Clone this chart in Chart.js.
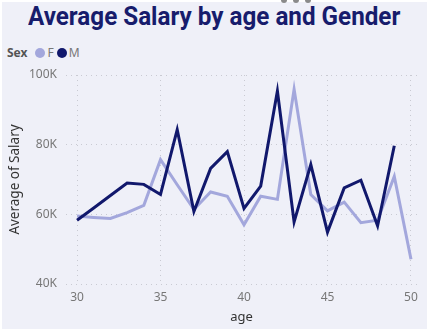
<!DOCTYPE html>
<html lang="en">
<head>
    <meta charset="UTF-8">
    <title>Average Salary by age and Gender</title>
    <style>
        body {
            margin: 0;
            width: 432px;
            height: 332px;
            background-color: #ffffff;
            position: relative;
            overflow: hidden;
            font-family: 'Noto Sans', sans-serif;
        }
        .panel {
            position: absolute;
            left: 2px;
            top: 2px;
            width: 425px;
            height: 327px;
            background-color: #eff0f8;
        }
        .dots {
            position: absolute;
            left: 281px;
            top: -3px;
            display: flex;
            gap: 6px;
        }
        .dots span {
            width: 6px;
            height: 6px;
            border-radius: 50%;
            background-color: #8a8a8a;
        }
        h1 {
            position: absolute;
            left: 0;
            width: 429px;
            top: 2px;
            margin: 0;
            text-align: center;
            white-space: nowrap;
            font-family: Roboto, sans-serif;
            font-weight: bold;
            font-size: 25px;
            line-height: 30px;
            color: #171c6c;
        }
        h1 span {
            display: inline-block;
        }
        .legend {
            position: absolute;
            left: 7px;
            top: 44px;
            font-size: 12px;
            color: #777777;
            white-space: nowrap;
        }
        .legend b {
            color: #555555;
            margin-right: 8px;
        }
        .legend i {
            display: inline-block;
            width: 10px;
            height: 10px;
            border-radius: 50%;
            vertical-align: -1px;
            margin-right: 2px;
        }
        canvas {
            position: absolute;
            left: 0;
            top: 0;
        }
    </style>
</head>
<body>
    <div class="panel"></div>
    <div class="dots"><span></span><span></span><span></span></div>
    <h1><span id="title">Average Salary by age and Gender</span></h1>
    <div class="legend"><b>Sex</b><i style="background:#a3a7dc"></i>F <i style="background:#11186c"></i>M</div>
    <canvas id="chart" width="432" height="332"></canvas>

    <script src="https://cdn.jsdelivr.net/npm/chart.js@4.4.1/dist/chart.umd.min.js"></script>
    <script>
        const ages = [30, 31, 32, 33, 34, 35, 36, 37, 38, 39, 40, 41, 42, 43, 44, 45, 46, 47, 48, 49, 50];
        const salaryF = [59500, 59100, 58800, 60500, 62600, 75700, 68500, 61400, 66400, 65200, 57000, 65200, 64300, 95900, 65700, 61000, 63500, 57600, 58300, 70900, 47100];
        const salaryM = [58300, 61800, 65400, 69000, 68600, 65700, 84300, 60800, 73200, 78000, 61700, 68100, 95400, 57800, 74300, 54900, 67600, 69800, 56700, 79700, null];
        const xTicks = [30, 35, 40, 45, 50];
        const yTicks = [40000, 60000, 80000, 100000];

        // squeeze the title to the narrow width of the original font
        const title = document.getElementById('title');
        title.style.transform = 'scaleX(' + (372 / title.offsetWidth) + ')';

        const pts = vals => ages.map((a, i) => ({ x: a, y: vals[i] }));
        const tickFont = { family: "'Noto Sans', sans-serif", size: 12 };
        const grid = {
            color: '#c9cad2',
            lineWidth: 1,
            drawTicks: false
        };

        new Chart(document.getElementById('chart'), {
            type: 'line',
            data: {
                datasets: [
                    { label: 'M', data: pts(salaryM), borderColor: '#11186c', borderWidth: 3, pointRadius: 0, spanGaps: false },
                    { label: 'F', data: pts(salaryF), borderColor: '#a3a7dc', borderWidth: 3, pointRadius: 0 }
                ]
            },
            options: {
                responsive: false,
                animation: false,
                layout: { padding: { top: 75, left: 3, right: 15, bottom: 3 } },
                plugins: { legend: { display: false }, tooltip: { enabled: false } },
                scales: {
                    x: {
                        type: 'linear',
                        min: 29.34,
                        max: 50.36,
                        afterBuildTicks: s => { s.ticks = xTicks.map(v => ({ value: v })); },
                        afterFit: s => { s.height = 45; },
                        border: { display: false, dash: [1, 4] },
                        grid: grid,
                        ticks: { color: '#777777', font: tickFont, padding: 6, maxRotation: 0 },
                        title: { display: true, text: 'age', color: '#333333', font: { family: "'Noto Sans', sans-serif", size: 13 }, padding: { top: 0, bottom: 4 } }
                    },
                    y: {
                        min: 40000,
                        max: 100000,
                        afterBuildTicks: s => { s.ticks = yTicks.map(v => ({ value: v })); },
                        afterFit: s => { s.width = 63; },
                        border: { display: false, dash: [1, 4] },
                        grid: grid,
                        ticks: { color: '#777777', font: tickFont, padding: 9, callback: v => (v / 1000) + 'K' },
                        title: { display: true, text: 'Average of Salary', color: '#333333', font: { family: "'Noto Sans', sans-serif", size: 13.5 }, padding: { top: 4, bottom: 0 } }
                    }
                }
            }
        });
    </script>
</body>
</html>
